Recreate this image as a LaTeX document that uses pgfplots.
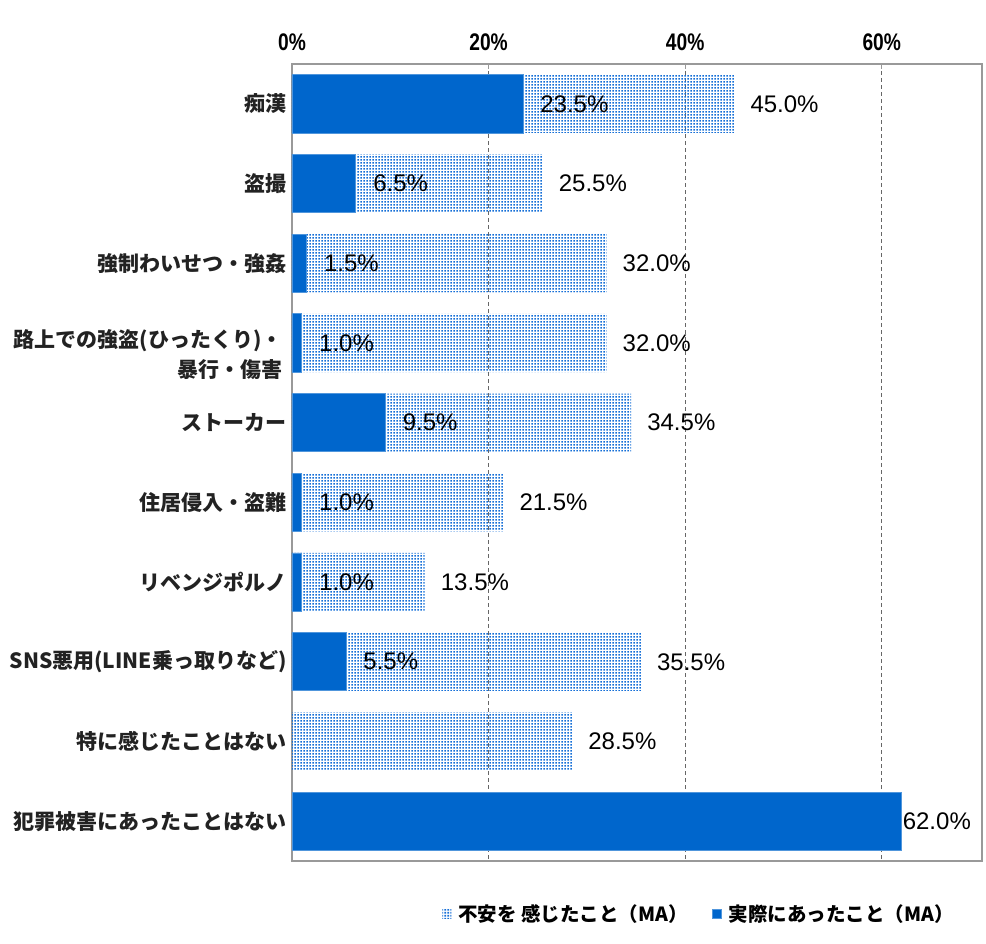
\documentclass[border=0pt]{standalone}
\usepackage{pgfplots}
\pgfplotsset{compat=1.18}
\usepackage{fontspec}
\setmainfont{Liberation Sans}
\newfontfamily\cjk{Noto Sans CJK JP}
\newfontfamily\numfont{Liberation Sans}
\newfontfamily\tickfont[FakeStretch=0.8]{Liberation Sans}
\usetikzlibrary{patterns}
\pgfdeclarepatternformonly{bluedots}{\pgfqpoint{0pt}{0pt}}{\pgfqpoint{3pt}{3pt}}{\pgfqpoint{3pt}{3pt}}{\pgfpathrectangle{\pgfqpoint{0.4pt}{0.4pt}}{\pgfqpoint{2.1pt}{2.1pt}}\pgfusepath{fill}}
\definecolor{barblue}{RGB}{0,102,204}
\definecolor{dotblue}{RGB}{20,110,215}
\definecolor{edgeblue}{RGB}{80,150,220}
\definecolor{txt}{RGB}{34,34,34}
\begin{document}
\begin{tikzpicture}
\begin{axis}[
  name=ax,
  scale only axis, width=690pt, height=797pt,
  xbar, bar width=0.73, bar shift=0pt,
  xmin=0, xmax=70.2, ymin=-0.5, ymax=9.5, y dir=reverse,
  clip=false,
  axis line style={draw=gray!80, line width=1.3pt},
  tick align=inside,
  xtick={0,20,40,60}, xticklabel pos=upper, xtick pos=upper,
  major tick length=5pt,
  tick style={draw=gray!80, line width=1pt},
  /pgf/number format/assume math mode=true,
  xticklabel={\pgfmathprintnumber{\tick}\%},
  xticklabel style={font=\fontsize{24}{24}\selectfont\tickfont\bfseries, text=black, yshift=10pt},
  xmajorgrids,
  grid style={draw=gray!80!black, dashed, line width=1pt, dash pattern=on 4pt off 3pt},
  ytick={0,...,9},
  yticklabels={痴漢, 盗撮, 強制わいせつ・強姦, {}, ストーカー, 住居侵入・盗難, リベンジポルノ, SNS悪用(LINE乗っ取りなど), 特に感じたことはない, 犯罪被害にあったことはない},
  yticklabel style={font=\fontsize{21}{30}\selectfont\cjk\bfseries, text=txt, xshift=-2pt},
  ytick style={draw=none},
  extra y ticks={0.5,1.5,...,8.5},
  extra y tick labels={},
  extra y tick style={tick style={draw=gray!80, line width=1pt}, major tick length=6pt},
  point meta=x,
  nodes near coords={\pgfmathprintnumber[fixed, fixed zerofill, precision=1]{\pgfplotspointmeta}\%},
  nodes near coords style={font=\fontsize{24}{24}\selectfont\numfont, text=black, anchor=west, inner sep=0pt},
  legend style={at={(0.59,-0.0665)}, anchor=center, draw=none, legend columns=2,
    font=\fontsize{19.5}{20}\selectfont\cjk\bfseries, text=black,
    /tikz/every odd column/.append style={column sep=5pt},
    /tikz/every even column/.append style={column sep=22pt}},
  legend image code/.code={\fill[#1] (0pt,-4.5pt) rectangle (9pt,4.5pt);},
]
\addplot[pattern=bluedots, pattern color=dotblue, draw=none,
  nodes near coords style={xshift=16pt}]
  coordinates {(45.0,0) (25.5,1) (32.0,2) (32.0,3) (34.5,4) (21.5,5) (13.5,6) (35.5,7) (28.5,8)};
\addlegendentry{不安を 感じたこと（MA）}
\addplot[fill=barblue, draw=edgeblue, line width=0.8pt,
  nodes near coords style={xshift=17pt}]
  coordinates {(23.5,0) (6.5,1) (1.5,2) (1.0,3) (9.5,4) (1.0,5) (1.0,6) (5.5,7)};
\addlegendentry{実際にあったこと（MA）}
\addplot[fill=barblue, draw=edgeblue, line width=0.8pt, forget plot,
  nodes near coords style={xshift=1pt}]
  coordinates {(62.0,9)};
\node[anchor=east, align=right, font=\fontsize{21}{30}\selectfont\cjk\bfseries, text=txt,
  xshift=-9pt, yshift=-12pt, inner sep=0pt] at (axis cs:0,3) {路上での強盗(ひったくり)・\\暴行・傷害};
\end{axis}
\pgfresetboundingbox
\path ([shift={(-292pt,-83pt)}]ax.south west) rectangle ([shift={(4pt,64pt)}]ax.north east);
\end{tikzpicture}
\end{document}
